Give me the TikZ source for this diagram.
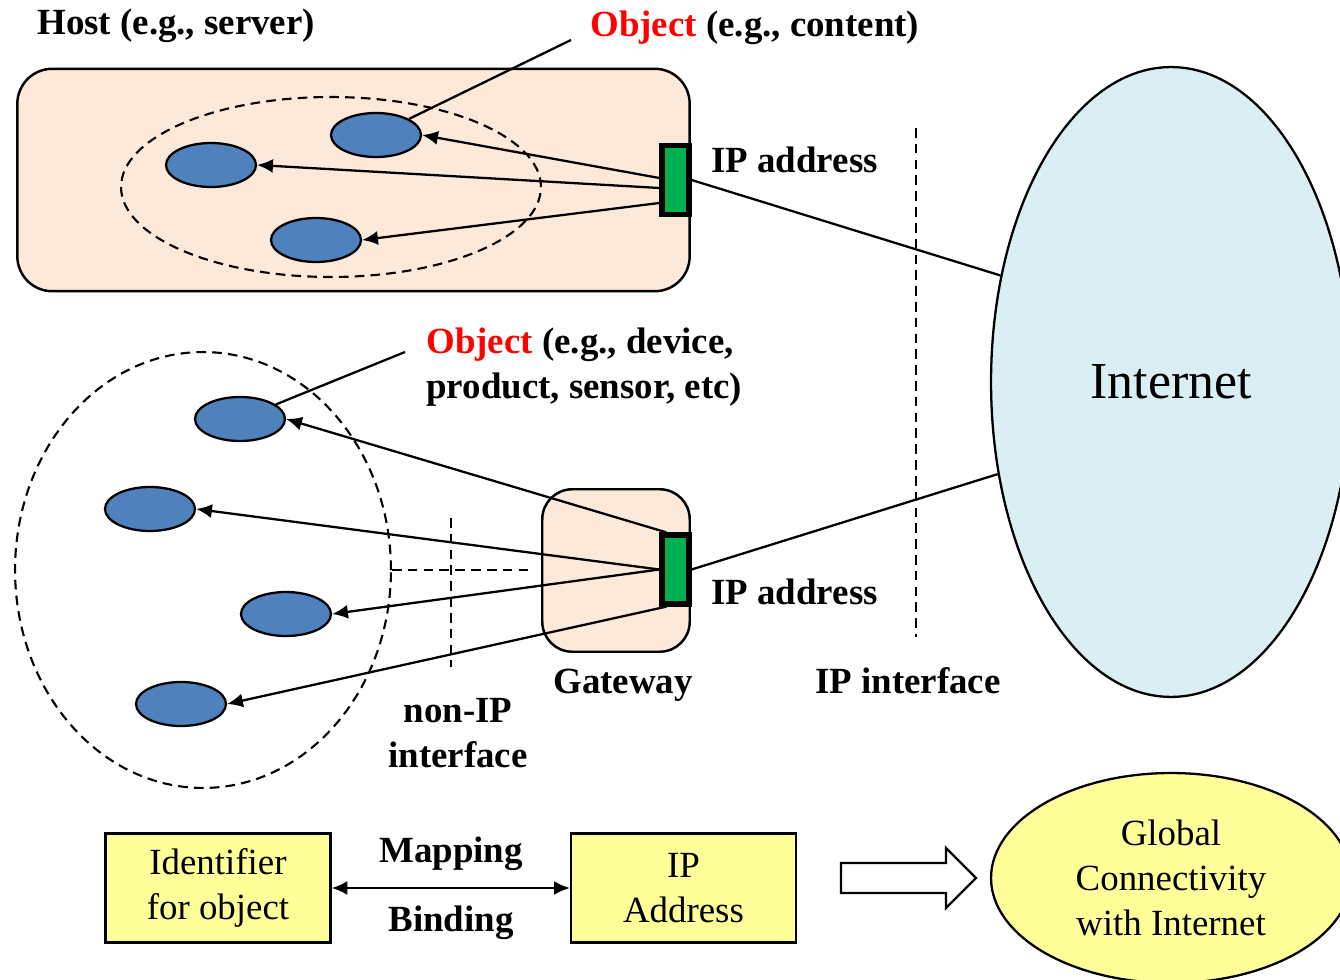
\documentclass[tikz,border=0pt]{standalone}
\usepackage{fontspec}
\setmainfont{Liberation Serif}
\usetikzlibrary{shapes.geometric, arrows.meta}

\definecolor{peach}{RGB}{253,233,217}
\definecolor{objblue}{RGB}{79,129,189}
\definecolor{portgreen}{RGB}{0,176,80}
\definecolor{netblue}{RGB}{218,238,243}
\definecolor{paleyellow}{RGB}{255,255,153}

\tikzset{
  wire/.style={line width=1.3pt},
  arr/.style={line width=1.3pt, -{Latex[length=9pt,width=8pt]}},
  dashline/.style={line width=1.2pt, dash pattern=on 5.5pt off 3.5pt},
  obj/.style={ellipse, draw, line width=1.3pt, fill=objblue, minimum width=1.8cm, minimum height=0.88cm, inner sep=0pt},
  port/.style={rectangle, draw, line width=3pt, fill=portgreen, minimum width=0.54cm, minimum height=1.38cm, inner sep=0pt},
  hostbox/.style={rectangle, draw, line width=1.4pt, fill=peach, rounded corners=0.7cm, inner sep=0pt},
  ring/.style={ellipse, draw, dashline, inner sep=0pt},
  lbl/.style={font=\fontsize{21}{25.5}\selectfont\bfseries, inner sep=0pt},
  ybox/.style={rectangle, draw, line width=1.3pt, fill=paleyellow, align=center, minimum width=4.5cm, minimum height=2.18cm, font=\fontsize{21}{25.5}\selectfont}
}

\begin{document}
\begin{tikzpicture}[x=0.02cm, y=-0.02cm]
\useasboundingbox (0,0) rectangle (1340,980);

% internet cloud
\node[ellipse, draw, line width=1.3pt, fill=netblue, minimum width=7.2cm, minimum height=12.6cm, font=\fontsize{29.5}{34}\selectfont] (net) at (1171,382) {Internet};

% host with content objects
\node[hostbox, minimum width=13.45cm, minimum height=4.45cm] (host) at (353.5,180) {};
\node[ring, minimum width=8.4cm, minimum height=3.6cm] (ring1) at (331,187) {};
\node[obj] (h1) at (376,135) {};
\node[obj] (h2) at (211,165) {};
\node[obj] (h3) at (316,240) {};
\node[port] (hip) at (675.5,180) {};

\draw[arr] ([yshift=0.04cm]hip.west) -- (h1.east);
\draw[arr] ([yshift=-0.16cm]hip.west) -- (h2.east);
\draw[arr] ([yshift=-0.46cm]hip.west) -- (h3.east);
\draw[wire] (hip.east) -- (net.148);

\node[lbl, anchor=base west] (hostlbl) at (37,35) {Host (e.g., server)};
\node[lbl, anchor=base west] (obj1lbl) at (590,37) {\textcolor{red}{Object} (e.g., content)};
\coordinate (c1) at (571,40);
\draw[wire] (c1) -- (h1);
\node[lbl, anchor=base west] (ip1lbl) at (711,173) {IP address};

% gateway with devices
\node[hostbox, rounded corners=0.6cm, minimum width=2.95cm, minimum height=3.25cm] (gw) at (616,570.5) {};
\node[ring, minimum width=7.52cm, minimum height=8.72cm] (ring2) at (203,570) {};
\node[obj] (e1) at (240,419) {};
\node[obj] (e2) at (150,509) {};
\node[obj] (e3) at (286,614) {};
\node[obj] (e4) at (181,704) {};
\node[port] (gip) at (675.5,569.5) {};

\draw[arr] ([xshift=0.14cm]gip.north west) -- (e1.east);
\draw[arr] (gip.west) -- (e2.east);
\draw[arr] (gip.west) -- (e3.east);
\draw[arr] ([xshift=0.14cm]gip.south west) -- (e4.east);
\draw[wire] (gip.east) -- (net.208);

\node[lbl, anchor=base west, align=left] (obj2lbl) at (426,398) {\textcolor{red}{Object} (e.g., device,\\product, sensor, etc)};
\coordinate (c2) at (405,352);
\draw[wire] (c2) -- (e1);
\node[lbl, anchor=base west] (ip2lbl) at (711,604) {IP address};
\node[lbl, anchor=base] (gwlbl) at (623,693) {Gateway};

% interfaces
\coordinate (nip1) at (533,570);
\draw[dashline] (ring2.east) -- (nip1);
\coordinate (nip2) at (451,518);
\coordinate (nip3) at (451,667);
\draw[dashline] (nip2) -- (nip3);
\node[lbl, anchor=base, align=center] (niplbl) at (458,767) {non-IP\\interface};
\coordinate (ipi1) at (916,128);
\coordinate (ipi2) at (916,637);
\draw[dashline] (ipi1) -- (ipi2);
\node[lbl, anchor=base] (ipilbl) at (908,693) {IP interface};

% mapping row
\node[ybox] (ident) at (218,888) {Identifier\\for object};
\node[ybox] (ipaddr) at (683.5,888) {IP\\Address};
\draw[line width=1.3pt, {Latex[length=9pt,width=8pt]}-{Latex[length=9pt,width=8pt]}] (ident) -- (ipaddr);
\node[lbl, anchor=base] (maplbl) at (451,862) {Mapping};
\node[lbl, anchor=base] (bindlbl) at (451,931) {Binding};

\draw[line width=1.3pt, fill=white] (841,863) -- (946,863) -- (946,848) -- (976,878) -- (946,908) -- (946,893) -- (841,893) -- cycle;
\node[ellipse, draw, line width=1.3pt, fill=paleyellow, minimum width=7.2cm, minimum height=4.2cm, align=center, font=\fontsize{21}{25.5}\selectfont] (glob) at (1171,878) {Global\\Connectivity\\with Internet};
\end{tikzpicture}
\end{document}
